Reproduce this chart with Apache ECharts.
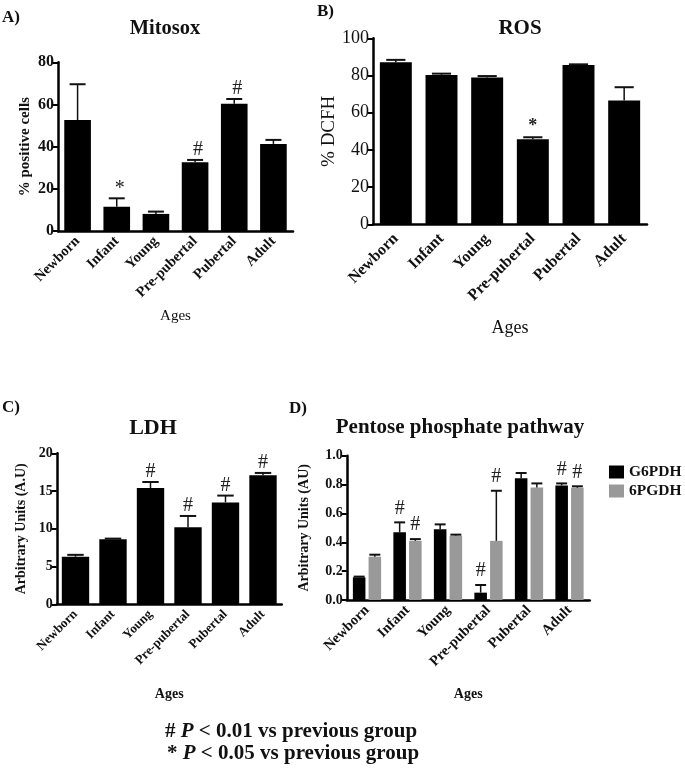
<!DOCTYPE html>
<html><head><meta charset="utf-8">
<script src="https://cdn.jsdelivr.net/npm/echarts@6/dist/echarts.min.js"></script>
<style>html,body{margin:0;padding:0;background:#fff}#c{width:685px;height:769px}</style>
</head><body><div id="c"></div>
<script>
const ages = ['Newborn','Infant','Young','Pre-pubertal','Pubertal','Adult'];
// Panel A: Mitosox (% positive cells)
const mitosoxMean = [52.6, 11.5, 8.1, 32.6, 60.3, 41.3];
const mitosoxSem  = [17.0, 4.0, 1.1, 1.1, 2.3, 1.9];
const mitosoxSig  = ['', '*', '', '#', '#', ''];
// Panel B: ROS (% DCFH)
const rosMean = [87.1, 80.3, 78.9, 45.7, 85.7, 66.5];
const rosSem  = [1.3, 0.7, 0.8, 1.1, 0.3, 7.2];
const rosSig  = ['', '', '', '*', '', ''];
// Panel C: LDH (A.U)
const ldhMean = [6.3, 8.6, 15.4, 10.2, 13.5, 17.1];
const ldhSem  = [0.25, 0.1, 0.8, 1.5, 0.9, 0.3];
const ldhSig  = ['', '', '#', '#', '#', '#'];
// Panel D: Pentose phosphate pathway (AU)
const g6pdhMean = [0.157, 0.469, 0.490, 0.051, 0.843, 0.794];
const g6pdhSem  = [0.005, 0.069, 0.034, 0.053, 0.037, 0.014];
const g6pdhSig  = ['', '#', '', '#', '', '#'];
const pgdhMean  = [0.300, 0.410, 0.446, 0.410, 0.780, 0.778];
const pgdhSem   = [0.014, 0.012, 0.007, 0.347, 0.028, 0.010];
const pgdhSig   = ['', '#', '', '#', '', '#'];

const SERIF = '"Liberation Serif","Times New Roman",serif';
const chart = echarts.init(document.getElementById('c'), null, {renderer:'canvas'});

function errSeries(gi, mean, sem, sig, offFrac, barFrac, sigFont, sigDx, sigGap) {
  return {
    type:'custom', xAxisIndex:gi, yAxisIndex:gi, z:5, silent:true,
    data: mean.map((m,i)=>[i, m, m+sem[i]]),
    renderItem(params, api){
      const i = api.value(0), m = api.value(1), t = api.value(2);
      const band = api.size([1,0])[0];
      const p0 = api.coord([i,m]), p1 = api.coord([i,t]);
      const x = p0[0] + offFrac*band;
      const cw = barFrac*band*0.3;
      const ch = [
        {type:'line', shape:{x1:x,y1:p0[1],x2:x,y2:p1[1]}, style:{stroke:'#111',lineWidth:1.5}},
        {type:'line', shape:{x1:x-cw,y1:p1[1],x2:x+cw,y2:p1[1]}, style:{stroke:'#111',lineWidth:2}}
      ];
      const s = sig[params.dataIndex];
      if (s) ch.push({type:'text', x:x+sigDx, y:p1[1]-sigGap,
        style:{text:s, font:sigFont, fill:'#222', align:'center', verticalAlign:'bottom', textAlign:'center', textVerticalAlign:'bottom'}});
      return {type:'group', children:ch};
    }
  };
}

function catAxis(gi, fontSize, margin, nameGap, nameSize, nameWeight) {
  return {
    type:'category', gridIndex:gi, data:ages,
    axisLine:{lineStyle:{color:'#000', width:2.5}},
    axisTick:{alignWithLabel:true, length:5, lineStyle:{color:'#000', width:2}},
    axisLabel:{rotate:45, margin:margin, color:'#111', fontFamily:SERIF, fontWeight:'bold', fontSize:fontSize},
    name:'Ages', nameLocation:'middle', nameGap:nameGap,
    nameTextStyle:{fontFamily:SERIF, fontSize:nameSize, fontWeight:nameWeight, color:'#111'}
  };
}
function valAxis(gi, max, interval, dec, fontSize, fontWeight, name, nameGap, nameSize, nameWeight) {
  return {
    type:'value', gridIndex:gi, min:0, max:max, interval:interval,
    axisLine:{show:true, lineStyle:{color:'#000', width:2.5}},
    axisTick:{show:true, length:5, lineStyle:{color:'#000', width:2}},
    splitLine:{show:false},
    axisLabel:{margin:4, color:'#111', fontFamily:SERIF, fontWeight:fontWeight, fontSize:fontSize,
      formatter: v => v.toFixed(dec)},
    name:name, nameLocation:'middle', nameRotate:90, nameGap:nameGap,
    nameTextStyle:{fontFamily:SERIF, fontSize:nameSize, fontWeight:nameWeight, color:'#111'}
  };
}
function txt(text, x, y, size, weight, align) {
  return {type:'text', x:x, y:y, style:{text:text, font:`${weight} ${size}px ${SERIF}`, fill:'#111',
    align:align||'left', textAlign:align||'left', verticalAlign:'top', textVerticalAlign:'top'}};
}

const option = {
  animation:false,
  backgroundColor:'#fff',
  grid:[
    {left:58, top:62.3, width:235, height:168.7},
    {left:373, top:38.3, width:274, height:186},
    {left:56.75, top:453.3, width:225, height:151},
    {left:346.75, top:455.7, width:243, height:144.3}
  ],
  xAxis:[
    catAxis(0, 14.5, 8, 78, 15, 'normal'),
    catAxis(1, 16, 12, 95, 18, 'normal'),
    catAxis(2, 13, 8, 83, 14, 'bold'),
    catAxis(3, 14.5, 8, 87, 14, 'bold')
  ],
  yAxis:[
    valAxis(0, 80, 20, 0, 16, 'bold', '% positive cells', 25, 15, 'bold'),
    valAxis(1, 100, 20, 0, 18, 'normal', '% DCFH', 33, 19, 'normal'),
    valAxis(2, 20, 5, 0, 14, 'bold', 'Arbitrary Units (A.U)', 28, 14, 'bold'),
    valAxis(3, 1.0, 0.2, 1, 14, 'bold', 'Arbitrary Units (AU)', 35, 14, 'bold')
  ],
  legend:{
    data:['G6PDH','6PGDH'], orient:'vertical', left:604, top:459,
    itemWidth:15, itemHeight:13, itemGap:3, icon:'rect',
    textStyle:{fontFamily:SERIF, fontWeight:'bold', fontSize:15.5, color:'#111'}
  },
  series:[
    {type:'bar', xAxisIndex:0, yAxisIndex:0, data:mitosoxMean, barWidth:'68%', itemStyle:{color:'#000'}},
    errSeries(0, mitosoxMean, mitosoxSem, mitosoxSig, 0, 0.68, `normal 20px ${SERIF}`, 3, 0),
    {type:'bar', xAxisIndex:1, yAxisIndex:1, data:rosMean, barWidth:'70%', itemStyle:{color:'#000'}},
    errSeries(1, rosMean, rosSem, rosSig, 0, 0.70, `bold 18px ${SERIF}`, 0, 2),
    {type:'bar', xAxisIndex:2, yAxisIndex:2, data:ldhMean, barWidth:'73%', itemStyle:{color:'#000'}},
    errSeries(2, ldhMean, ldhSem, ldhSig, 0, 0.73, `normal 20px ${SERIF}`, 0, 0),
    {type:'bar', name:'G6PDH', xAxisIndex:3, yAxisIndex:3, data:g6pdhMean, barWidth:'31%', barGap:'25%', itemStyle:{color:'#000'}},
    {type:'bar', name:'6PGDH', xAxisIndex:3, yAxisIndex:3, data:pgdhMean, barWidth:'31%', barGap:'25%', itemStyle:{color:'#999'}},
    errSeries(3, g6pdhMean, g6pdhSem, g6pdhSig, -0.19375, 0.45, `normal 20px ${SERIF}`, 0, 4),
    errSeries(3, pgdhMean, pgdhSem, pgdhSig, 0.19375, 0.45, `normal 20px ${SERIF}`, 0, 4)
  ],
  graphic:[
    txt('A)', 2, 9, 17, 'bold'),
    txt('Mitosox', 165, 18, 20.5, 'bold', 'center'),
    txt('B)', 317, 3, 17, 'bold'),
    txt('ROS', 520, 18, 21, 'bold', 'center'),
    txt('C)', 2, 399, 17, 'bold'),
    txt('LDH', 153, 417, 22, 'bold', 'center'),
    txt('D)', 289, 400, 17, 'bold'),
    txt('Pentose phosphate pathway', 460, 417, 21, 'bold', 'center'),
    {type:'text', x:165, y:721, style:{
      text:'{a|#} {p|P} {a|< 0.01 vs previous group}',
      rich:{a:{font:`bold 21px ${SERIF}`, fill:'#111'}, p:{font:`italic bold 21px ${SERIF}`, fill:'#111'}},
      font:`bold 21px ${SERIF}`, fill:'#111'}},
    {type:'text', x:167, y:743, style:{
      text:'{a|*} {p|P} {a|< 0.05 vs previous group}',
      rich:{a:{font:`bold 21px ${SERIF}`, fill:'#111'}, p:{font:`italic bold 21px ${SERIF}`, fill:'#111'}},
      font:`bold 21px ${SERIF}`, fill:'#111'}}
  ]
};
chart.setOption(option);
</script></body></html>
